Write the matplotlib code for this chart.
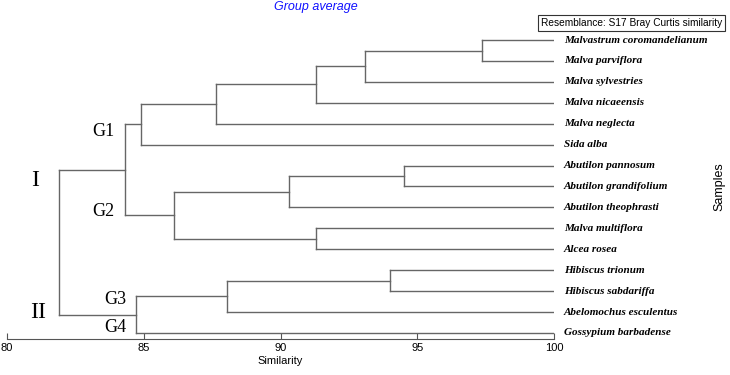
import matplotlib
matplotlib.use("Agg")
import matplotlib.pyplot as plt

# leaves, top to bottom
leaves = ["Malvastrum coromandelianum", "Malva parviflora", "Malva sylvestries",
          "Malva nicaeensis", "Malva neglecta", "Sida alba", "Abutilon pannosum",
          "Abutilon grandifolium", "Abutilon theophrasti", "Malva multiflora",
          "Alcea rosea", "Hibiscus trionum", "Hibiscus sabdariffa",
          "Abelomochus esculentus", "Gossypium barbadense"]

# merges: (cluster a, cluster b, similarity); new clusters numbered from 15
merge_a = [0, 15, 16, 17, 18, 6, 20, 9, 21, 19, 11, 25, 26, 24]
merge_b = [1, 2, 3, 4, 5, 7, 8, 10, 22, 23, 12, 13, 14, 27]
merge_sim = [97.35, 93.1, 91.3, 87.65, 84.9, 94.5, 90.3, 91.3, 86.1, 84.3,
             94.0, 88.05, 84.7, 81.9]

group_labels = ["G1", "G2", "G3", "G4"]
big_labels = ["I", "II"]

xticks = [80, 85, 90, 95, 100]

line_col = "#666666"

fig = plt.figure(figsize=(7.3, 3.75), dpi=100)
ax = fig.add_axes([7 / 730, 36 / 375, 547 / 730, 309 / 375])

n = len(leaves)
ypos = {i: float(i) for i in range(n)}
xpos = {i: 100.0 for i in range(n)}
for k, (a, b, s) in enumerate(zip(merge_a, merge_b, merge_sim)):
    c = n + k
    ax.plot([s, s], [ypos[a], ypos[b]], color=line_col, lw=1)
    ax.plot([s, xpos[a]], [ypos[a], ypos[a]], color=line_col, lw=1)
    ax.plot([s, xpos[b]], [ypos[b], ypos[b]], color=line_col, lw=1)
    ypos[c] = (ypos[a] + ypos[b]) / 2
    xpos[c] = s

for i, name in enumerate(leaves):
    ax.annotate(name, (100, i), xytext=(7, 0), textcoords="offset points",
                va="center", ha="left", fontsize=8, family="Liberation Serif",
                style="italic", weight="bold", annotation_clip=False)

ax.set_xlim(80, 100)
ax.set_ylim(14.29, -0.48)
for sp in ["left", "right", "top"]:
    ax.spines[sp].set_visible(False)
ax.spines["bottom"].set_color("#555555")
ax.set_yticks([])
ax.set_xticks(xticks)
ax.tick_params(axis="x", direction="in", length=4.5, labelsize=8, color="#555555", pad=3)
for t in ax.get_xticklabels():
    t.set_family("Liberation Sans")
ax.set_xlabel("Similarity", fontsize=8, family="Liberation Sans", labelpad=2)

# group labels
gx = [(92, 132), (92, 211), (104, 300), (104, 328)]
for lab, (px, py) in zip(group_labels, gx):
    fig.text(px / 730, 1 - py / 375, lab, fontsize=13, family="Liberation Serif",
             va="center", ha="left")
for lab, (px, py) in zip(big_labels, [(35, 180), (38, 313)]):
    fig.text(px / 730, 1 - py / 375, lab, fontsize=17, family="Liberation Serif",
             va="center", ha="center")

fig.text(316 / 730, 1 - 7 / 375, "Group average", color="#1010ff", fontsize=9,
         style="italic", family="Liberation Sans", ha="center", va="center")
fig.text(541 / 730, 1 - 23 / 375, "Resemblance: S17 Bray Curtis similarity",
         fontsize=7.3, family="Liberation Sans", ha="left", va="center",
         bbox=dict(boxstyle="square,pad=0.25", fc="white", ec="#333333", lw=0.8))
fig.text(719 / 730, 1 - 187 / 375, "Samples", rotation=90, fontsize=9,
         family="Liberation Sans", ha="center", va="center")

fig.savefig("out.png", dpi=100)
